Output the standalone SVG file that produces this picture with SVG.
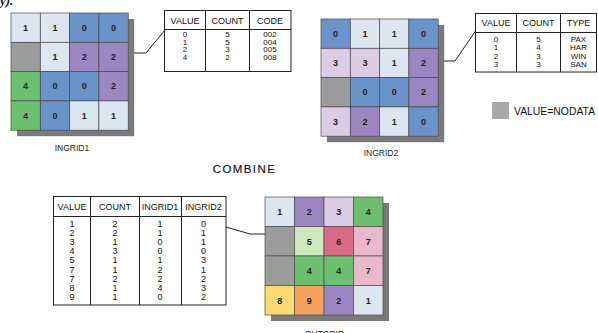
<svg xmlns="http://www.w3.org/2000/svg" width="598" height="333" viewBox="0 0 598 333">
<style>
.bg{fill:#ffffff}
.sh{fill:#7a7a7a}
.c{stroke:#4a4a4a;stroke-width:0.7}
.lb{fill:#dce6f1}.mb{fill:#6a93c9}.pu{fill:#9b86c2}.lp{fill:#dccbe4}.gr{fill:#6bbf6e}.gy{fill:#9c9c9c}
.lg{fill:#cde8bd}.rd{fill:#db6a85}.pk{fill:#e9b9cb}.ye{fill:#fedb70}.or{fill:#f6a15e}
.n{font-family:"Liberation Sans",Arial,sans-serif;font-size:9px;font-weight:bold;fill:#222;text-anchor:middle}
.t{font-family:"Liberation Sans",Arial,sans-serif;font-size:9px;fill:#111;text-anchor:middle}
.d{font-family:"Liberation Sans",Arial,sans-serif;font-size:8px;fill:#111;text-anchor:middle}
.lbl{font-family:"Liberation Sans",Arial,sans-serif;font-size:8.5px;fill:#222;text-anchor:middle}
.tb{fill:#fff;stroke:#222;stroke-width:1}
.ln{fill:none;stroke:#222;stroke-width:1}
.conn{fill:none;stroke:#222;stroke-width:1}
</style>
<rect class="bg" x="0" y="0" width="598" height="333"/>
<text x="0" y="5" font-family="Liberation Serif, serif" font-size="13" font-weight="bold" font-style="italic" fill="#111">y).</text>

<g id="ingrid1">
<rect class="sh" x="17" y="19" width="117.2" height="117.2"/>
<g class="c">
<rect class="lb" x="11" y="13" width="29.3" height="29.3"/><rect class="lb" x="40.3" y="13" width="29.3" height="29.3"/><rect class="mb" x="69.6" y="13" width="29.3" height="29.3"/><rect class="mb" x="98.9" y="13" width="29.3" height="29.3"/>
<rect class="gy" x="11" y="42.3" width="29.3" height="29.3"/><rect class="lb" x="40.3" y="42.3" width="29.3" height="29.3"/><rect class="pu" x="69.6" y="42.3" width="29.3" height="29.3"/><rect class="pu" x="98.9" y="42.3" width="29.3" height="29.3"/>
<rect class="gr" x="11" y="71.6" width="29.3" height="29.3"/><rect class="mb" x="40.3" y="71.6" width="29.3" height="29.3"/><rect class="mb" x="69.6" y="71.6" width="29.3" height="29.3"/><rect class="pu" x="98.9" y="71.6" width="29.3" height="29.3"/>
<rect class="gr" x="11" y="100.9" width="29.3" height="29.3"/><rect class="mb" x="40.3" y="100.9" width="29.3" height="29.3"/><rect class="lb" x="69.6" y="100.9" width="29.3" height="29.3"/><rect class="lb" x="98.9" y="100.9" width="29.3" height="29.3"/>
</g>
<text class="n" x="25.6" y="30.8">1</text><text class="n" x="54.9" y="30.8">1</text><text class="n" x="84.2" y="30.8">0</text><text class="n" x="113.5" y="30.8">0</text>
<text class="n" x="54.9" y="60.1">1</text><text class="n" x="84.2" y="60.1">2</text><text class="n" x="113.5" y="60.1">2</text>
<text class="n" x="25.6" y="89.4">4</text><text class="n" x="54.9" y="89.4">0</text><text class="n" x="84.2" y="89.4">0</text><text class="n" x="113.5" y="89.4">2</text>
<text class="n" x="25.6" y="118.7">4</text><text class="n" x="54.9" y="118.7">0</text><text class="n" x="84.2" y="118.7">1</text><text class="n" x="113.5" y="118.7">1</text>
<text class="lbl" x="72" y="151">INGRID1</text>
</g>

<g id="table1">
<rect class="tb" x="164.5" y="10.5" width="126.5" height="61"/>
<path class="ln" d="M164.5 29.5H291M205.5 10.5V71.5M249.5 10.5V71.5"/>
<text class="t" x="185" y="23.5">VALUE</text><text class="t" x="227.5" y="23.5">COUNT</text><text class="t" x="270" y="23.5">CODE</text>
<text class="d" x="185" y="37">0</text><text class="d" x="227.5" y="37">5</text><text class="d" x="270" y="37">002</text>
<text class="d" x="185" y="44.7">1</text><text class="d" x="227.5" y="44.7">5</text><text class="d" x="270" y="44.7">004</text>
<text class="d" x="185" y="52.4">2</text><text class="d" x="227.5" y="52.4">3</text><text class="d" x="270" y="52.4">005</text>
<text class="d" x="185" y="60.1">4</text><text class="d" x="227.5" y="60.1">2</text><text class="d" x="270" y="60.1">008</text>
</g>

<g id="ingrid2">
<rect class="sh" x="327" y="25" width="117.2" height="117.2"/>
<g class="c">
<rect class="mb" x="321" y="19" width="29.3" height="29.3"/><rect class="lb" x="350.3" y="19" width="29.3" height="29.3"/><rect class="lb" x="379.6" y="19" width="29.3" height="29.3"/><rect class="mb" x="408.9" y="19" width="29.3" height="29.3"/>
<rect class="lp" x="321" y="48.3" width="29.3" height="29.3"/><rect class="lp" x="350.3" y="48.3" width="29.3" height="29.3"/><rect class="lb" x="379.6" y="48.3" width="29.3" height="29.3"/><rect class="pu" x="408.9" y="48.3" width="29.3" height="29.3"/>
<rect class="gy" x="321" y="77.6" width="29.3" height="29.3"/><rect class="mb" x="350.3" y="77.6" width="29.3" height="29.3"/><rect class="mb" x="379.6" y="77.6" width="29.3" height="29.3"/><rect class="pu" x="408.9" y="77.6" width="29.3" height="29.3"/>
<rect class="lp" x="321" y="106.9" width="29.3" height="29.3"/><rect class="pu" x="350.3" y="106.9" width="29.3" height="29.3"/><rect class="lb" x="379.6" y="106.9" width="29.3" height="29.3"/><rect class="mb" x="408.9" y="106.9" width="29.3" height="29.3"/>
</g>
<text class="n" x="335.6" y="36.8">0</text><text class="n" x="364.9" y="36.8">1</text><text class="n" x="394.2" y="36.8">1</text><text class="n" x="423.5" y="36.8">0</text>
<text class="n" x="335.6" y="66.1">3</text><text class="n" x="364.9" y="66.1">3</text><text class="n" x="394.2" y="66.1">1</text><text class="n" x="423.5" y="66.1">2</text>
<text class="n" x="364.9" y="95.4">0</text><text class="n" x="394.2" y="95.4">0</text><text class="n" x="423.5" y="95.4">2</text>
<text class="n" x="335.6" y="124.7">3</text><text class="n" x="364.9" y="124.7">2</text><text class="n" x="394.2" y="124.7">1</text><text class="n" x="423.5" y="124.7">0</text>
<text class="lbl" x="381" y="156">INGRID2</text>
</g>

<g id="table2">
<rect class="tb" x="475.5" y="13.5" width="121" height="58.5"/>
<path class="ln" d="M475.5 32.5H596.5M516.5 13.5V72M560.5 13.5V72"/>
<text class="t" x="496" y="26">VALUE</text><text class="t" x="538.5" y="26">COUNT</text><text class="t" x="578.5" y="26">TYPE</text>
<text class="d" x="496" y="42">0</text><text class="d" x="538.5" y="42">5</text><text class="d" x="578.5" y="42">PAX</text>
<text class="d" x="496" y="50.3">1</text><text class="d" x="538.5" y="50.3">4</text><text class="d" x="578.5" y="50.3">HAR</text>
<text class="d" x="496" y="58.6">2</text><text class="d" x="538.5" y="58.6">3</text><text class="d" x="578.5" y="58.6">WIN</text>
<text class="d" x="496" y="66.9">3</text><text class="d" x="538.5" y="66.9">3</text><text class="d" x="578.5" y="66.9">SAN</text>
</g>

<g id="legend">
<rect x="492" y="102" width="17" height="17" fill="#a8a8a8"/>
<text x="514" y="115" font-family="Liberation Sans, Arial, sans-serif" font-size="10.4" fill="#111">VALUE=NODATA</text>
</g>

<g id="combine">
<text x="244.5" y="173" font-family="Liberation Sans, Arial, sans-serif" font-size="11.5" letter-spacing="1.4" fill="#111" text-anchor="middle" stroke="#111" stroke-width="0.15">COMBINE</text>
</g>

<g id="table3">
<rect class="tb" x="53.5" y="196.5" width="172.5" height="108.5"/>
<path class="ln" d="M53.5 216.5H226M90.5 196.5V305M139.5 196.5V305M181.5 196.5V305"/>
<text class="t" x="72" y="209.5">VALUE</text><text class="t" x="115" y="209.5">COUNT</text><text class="t" x="160" y="209.5">INGRID1</text><text class="t" x="203.5" y="209.5">INGRID2</text>
<g class="t">
<text x="72" y="227">1</text><text x="115" y="227">2</text><text x="160" y="227">1</text><text x="203.5" y="227">0</text>
<text x="72" y="236.1">2</text><text x="115" y="236.1">2</text><text x="160" y="236.1">1</text><text x="203.5" y="236.1">1</text>
<text x="72" y="245.2">3</text><text x="115" y="245.2">1</text><text x="160" y="245.2">0</text><text x="203.5" y="245.2">1</text>
<text x="72" y="254.3">4</text><text x="115" y="254.3">3</text><text x="160" y="254.3">0</text><text x="203.5" y="254.3">0</text>
<text x="72" y="263.4">5</text><text x="115" y="263.4">1</text><text x="160" y="263.4">1</text><text x="203.5" y="263.4">3</text>
<text x="72" y="272.5">7</text><text x="115" y="272.5">1</text><text x="160" y="272.5">2</text><text x="203.5" y="272.5">1</text>
<text x="72" y="281.6">7</text><text x="115" y="281.6">2</text><text x="160" y="281.6">2</text><text x="203.5" y="281.6">2</text>
<text x="72" y="290.7">8</text><text x="115" y="290.7">1</text><text x="160" y="290.7">4</text><text x="203.5" y="290.7">3</text>
<text x="72" y="299.8">9</text><text x="115" y="299.8">1</text><text x="160" y="299.8">0</text><text x="203.5" y="299.8">2</text>
</g>
</g>

<g id="outgrid">
<rect class="sh" x="271" y="203" width="118" height="118"/>
<g class="c">
<rect class="lb" x="265" y="197" width="29.5" height="29.5"/><rect class="pu" x="294.5" y="197" width="29.5" height="29.5"/><rect class="lp" x="324" y="197" width="29.5" height="29.5"/><rect class="gr" x="353.5" y="197" width="29.5" height="29.5"/>
<rect class="gy" x="265" y="226.5" width="29.5" height="29.5"/><rect class="lg" x="294.5" y="226.5" width="29.5" height="29.5"/><rect class="rd" x="324" y="226.5" width="29.5" height="29.5"/><rect class="pk" x="353.5" y="226.5" width="29.5" height="29.5"/>
<rect class="gy" x="265" y="256" width="29.5" height="29.5"/><rect class="gr" x="294.5" y="256" width="29.5" height="29.5"/><rect class="gr" x="324" y="256" width="29.5" height="29.5"/><rect class="pk" x="353.5" y="256" width="29.5" height="29.5"/>
<rect class="ye" x="265" y="285.5" width="29.5" height="29.5"/><rect class="or" x="294.5" y="285.5" width="29.5" height="29.5"/><rect class="pu" x="324" y="285.5" width="29.5" height="29.5"/><rect class="lb" x="353.5" y="285.5" width="29.5" height="29.5"/>
</g>
<text class="n" x="279.8" y="215">1</text><text class="n" x="309.3" y="215">2</text><text class="n" x="338.8" y="215">3</text><text class="n" x="368.3" y="215">4</text>
<text class="n" x="309.3" y="244.5">5</text><text class="n" x="338.8" y="244.5">6</text><text class="n" x="368.3" y="244.5">7</text>
<text class="n" x="309.3" y="274">4</text><text class="n" x="338.8" y="274">4</text><text class="n" x="368.3" y="274">7</text>
<text class="n" x="279.8" y="303.5">8</text><text class="n" x="309.3" y="303.5">9</text><text class="n" x="338.8" y="303.5">2</text><text class="n" x="368.3" y="303.5">1</text>
<text class="lbl" x="324.5" y="336.5">OUTGRID</text>
</g>

<g id="connectors">
<polyline class="conn" points="134,53 146,53 165,30"/>
<polyline class="conn" points="444,61 455,61 475.5,31"/>
<polyline class="conn" points="226,227 250,234 265,234"/>
</g>
</svg>
